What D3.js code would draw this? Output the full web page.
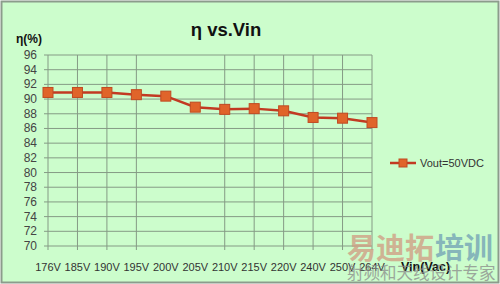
<!DOCTYPE html>
<html>
<head>
<meta charset="utf-8">
<script src="https://cdnjs.cloudflare.com/ajax/libs/d3/7.8.5/d3.min.js"></script>
<style>
  html, body { margin: 0; padding: 0; background: #fff; }
  svg { display: block; }
</style>
</head>
<body>
<svg id="chart" width="500" height="284"></svg>
<script>
// data
var categories = ['176V', '185V', '190V', '195V', '200V', '205V', '210V', '215V', '220V', '240V', '250V', '264V'];
var efficiency = [90.9, 90.9, 90.9, 90.6, 90.4, 88.9, 88.6, 88.7, 88.4, 87.5, 87.4, 86.8];
var yTicks = d3.range(70, 97, 2);
var seriesName = 'Vout=50VDC';
// the reference drops these two vertical gridlines
var missingGrid = ['200V', '205V'];

var svg = d3.select('#chart');

svg.append('rect')
  .attr('x', 1.5).attr('y', 1.5)
  .attr('width', 497).attr('height', 281)
  .attr('fill', '#ccfdcc')
  .attr('stroke', '#8c9c8c')
  .attr('stroke-width', 2);

var x = d3.scalePoint().domain(categories).range([48, 372]);
var y = d3.scaleLinear().domain([70, 96]).range([246, 55]);

var grid = svg.append('g').classed('grid-lines', true);

grid.selectAll('line.horz-line')
  .data(yTicks)
  .enter()
  .append('line')
  .classed('horz-line', true)
  .attr('x1', 44)
  .attr('x2', 372)
  .attr('y1', function(d) { return y(d); })
  .attr('y2', function(d) { return y(d); })
  .attr('stroke', '#859a85')
  .attr('stroke-width', 1);

grid.selectAll('line.vert-line')
  .data(categories.filter(function(c) { return missingGrid.indexOf(c) < 0; }))
  .enter()
  .append('line')
  .classed('vert-line', true)
  .attr('x1', function(d) { return x(d); })
  .attr('x2', function(d) { return x(d); })
  .attr('y1', y(96))
  .attr('y2', y(70) + 4)
  .attr('stroke', '#859a85')
  .attr('stroke-width', 1);

svg.selectAll('text.y-label')
  .data(yTicks)
  .enter()
  .append('text')
  .classed('y-label', true)
  .attr('x', 37)
  .attr('y', function(d) { return y(d) + 4; })
  .attr('text-anchor', 'end')
  .attr('font-family', 'Liberation Sans, Arial, sans-serif')
  .attr('font-size', 12)
  .attr('fill', '#444')
  .text(function(d) { return d; });

svg.selectAll('text.x-label')
  .data(categories)
  .enter()
  .append('text')
  .classed('x-label', true)
  .attr('x', function(d) { return x(d); })
  .attr('y', 271)
  .attr('text-anchor', 'middle')
  .attr('font-family', 'Liberation Sans, Arial, sans-serif')
  .attr('font-size', 11)
  .attr('fill', '#333')
  .text(function(d) { return d; });

// series
var line = d3.line()
  .x(function(d, i) { return x(categories[i]); })
  .y(function(d) { return y(d); });

svg.append('path')
  .datum(efficiency)
  .attr('d', line)
  .attr('fill', 'none')
  .attr('stroke', '#c23a22')
  .attr('stroke-width', 2.5);

svg.selectAll('rect.marker')
  .data(efficiency)
  .enter()
  .append('rect')
  .classed('marker', true)
  .attr('x', function(d, i) { return x(categories[i]) - 5; })
  .attr('y', function(d) { return y(d) - 5; })
  .attr('width', 10)
  .attr('height', 10)
  .attr('fill', '#e0642a')
  .attr('stroke', '#c04a22')
  .attr('stroke-width', 1);

// titles
svg.append('text')
  .attr('x', 226)
  .attr('y', 36)
  .attr('text-anchor', 'middle')
  .attr('font-family', 'Liberation Sans, Arial, sans-serif')
  .attr('font-weight', 'bold')
  .attr('font-size', 18.5)
  .attr('fill', '#111')
  .text('η vs.Vin');

svg.append('text')
  .attr('x', 16)
  .attr('y', 43)
  .attr('font-family', 'Liberation Sans, Arial, sans-serif')
  .attr('font-weight', 'bold')
  .attr('font-size', 12)
  .attr('fill', '#111')
  .text('η(%)');

svg.append('text')
  .attr('x', 401)
  .attr('y', 271)
  .attr('font-family', 'Liberation Sans, Arial, sans-serif')
  .attr('font-weight', 'bold')
  .attr('font-size', 12.5)
  .attr('fill', '#111')
  .text('Vin(Vac)');

// legend
var legend = svg.append('g').attr('transform', 'translate(390,163)');
legend.append('line')
  .attr('x1', 0).attr('x2', 26)
  .attr('y1', 0).attr('y2', 0)
  .attr('stroke', '#c23a22')
  .attr('stroke-width', 2.5);
legend.append('rect')
  .attr('x', 9).attr('y', -4)
  .attr('width', 8).attr('height', 8)
  .attr('fill', '#e0642a')
  .attr('stroke', '#c04a22');
legend.append('text')
  .attr('x', 30)
  .attr('y', 4)
  .attr('font-family', 'Liberation Sans, Arial, sans-serif')
  .attr('font-size', 11)
  .attr('fill', '#333')
  .text(seriesName);

// watermark
var wm = svg.append('g').attr('opacity', 0.75);
wm.append('text')
  .attr('x', 347).attr('y', 259)
  .attr('font-family', 'Noto Sans CJK SC')
  .attr('font-weight', 'bold')
  .attr('font-size', 29)
  .attr('fill', '#d09a80')
  .text('易迪拓');
wm.append('text')
  .attr('x', 435).attr('y', 259)
  .attr('font-family', 'Noto Sans CJK SC')
  .attr('font-weight', 'bold')
  .attr('font-size', 29)
  .attr('fill', '#6f9fb4')
  .text('培训');
wm.append('text')
  .attr('x', 347).attr('y', 279)
  .attr('font-family', 'Noto Sans CJK SC')
  .attr('font-size', 16.5)
  .attr('fill', '#8a8a8a')
  .text('射频和天线设计专家');
</script>
</body>
</html>
